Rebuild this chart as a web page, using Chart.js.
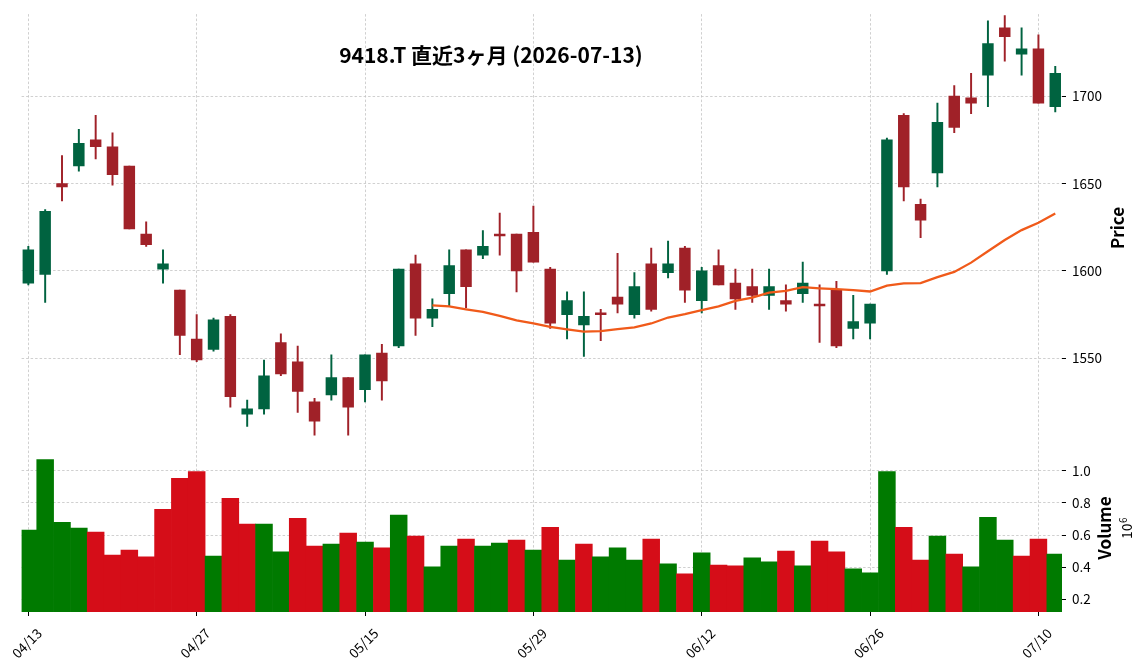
<!DOCTYPE html>
<html>
<head>
<meta charset="utf-8">
<script src="https://cdn.jsdelivr.net/npm/chart.js@4.4.1/dist/chart.umd.min.js"></script>
<style>
  html, body { margin: 0; padding: 0; background: #fff; }
</style>
</head>
<body>
<canvas id="stockChart" width="1148" height="670"></canvas>
<script>
// --- Data (9418.T, last 3 months) ---
const dates = [
  "04/13","04/14","04/15","04/16","04/17","04/20","04/21","04/22","04/23","04/24",
  "04/27","04/28","04/30","05/01","05/07","05/08","05/11","05/12","05/13","05/14",
  "05/15","05/18","05/19","05/20","05/21","05/22","05/25","05/26","05/27","05/28",
  "05/29","06/01","06/02","06/03","06/04","06/05","06/08","06/09","06/10","06/11",
  "06/12","06/15","06/16","06/17","06/18","06/19","06/22","06/23","06/24","06/25",
  "06/26","06/29","06/30","07/01","07/02","07/03","07/06","07/07","07/08","07/09",
  "07/10","07/13"
];
const opens = [
  1593,1598,1650,1660,1675,1671,1660,1621,1601,1589,
  1561,1555,1574,1518,1521,1559,1548,1525,1529,1539,
  1532,1553,1557,1604,1573,1587,1612,1609,1621,1621,
  1622,1601,1575,1569,1576,1585,1575,1604,1599,1613,
  1583,1603,1593,1591,1586,1583,1587,1581,1589,1567,
  1570,1600,1689,1638,1656,1700,1699,1712,1739,1724,
  1727,1694
];
const highs = [
  1614,1635,1666,1681,1689,1679,1660,1628,1612,1589,
  1575,1573,1575,1526,1549,1564,1557,1527,1552,1539,
  1552,1558,1601,1609,1584,1612,1612,1623,1633,1621,
  1637,1602,1588,1588,1578,1610,1599,1613,1617,1614,
  1602,1612,1601,1601,1601,1592,1605,1592,1594,1586,
  1581,1676,1690,1641,1696,1706,1713,1743,1746,1739,
  1735,1717
];
const lows = [
  1592,1582,1640,1657,1664,1649,1624,1614,1593,1552,
  1548,1554,1522,1511,1518,1540,1519,1506,1526,1506,
  1525,1526,1556,1563,1568,1580,1579,1607,1609,1588,
  1605,1567,1561,1551,1560,1576,1573,1577,1596,1582,
  1576,1592,1578,1582,1578,1577,1582,1559,1556,1561,
  1561,1598,1640,1619,1648,1679,1690,1694,1720,1712,
  1696,1691
];
const closes = [
  1612,1634,1648,1673,1671,1655,1624,1615,1604,1563,
  1549,1572,1528,1521,1540,1541,1531,1514,1539,1522,
  1552,1537,1601,1573,1578,1603,1591,1614,1620,1600,
  1605,1570,1583,1574,1575,1581,1591,1578,1604,1589,
  1600,1592,1584,1586,1591,1581,1593,1580,1557,1571,
  1581,1675,1648,1629,1685,1682,1696,1730,1734,1727,
  1696,1713
];
const volumes = [
  631000,1070000,680000,643000,619000,476000,507000,464000,761000,953000,
  996000,470000,829000,668000,668000,495000,705000,532000,544000,612000,
  557000,520000,724000,594000,402000,532000,575000,532000,551000,569000,
  507000,649000,445000,544000,464000,520000,445000,575000,421000,359000,
  489000,414000,408000,458000,433000,501000,408000,563000,495000,390000,
  365000,996000,649000,445000,594000,482000,402000,711000,569000,470000,
  575000,482000
];
// 25-day moving average
const ma25 = [
  null,null,null,null,null,null,null,null,null,null,
  null,null,null,null,null,null,null,null,null,null,
  null,null,null,null,1580.3,1579.7,1578.0,1576.5,1574.2,1571.7,
  1569.9,1568.0,1566.5,1565.2,1565.5,1566.7,1567.6,1569.9,1573.3,1575.2,
  1577.5,1579.7,1582.8,1584.7,1587.5,1588.6,1590.7,1590.0,1589.5,1589.0,
  1588.2,1591.5,1592.8,1593.0,1596.4,1599.4,1604.7,1611.2,1617.6,1623.3,
  1627.5,1632.8
];
const xTickIdx = [0, 10, 20, 30, 40, 50, 60];
const priceTicks = [1550, 1600, 1650, 1700];
const volumeTicks = [200000, 400000, 600000, 800000, 1000000];

// --- Styles ---
const UP = '#006340', DOWN = '#a02128';
const VOL_UP = '#007a00', VOL_DOWN = '#d50d18';
const MA_COLOR = '#f05a1a';
const GRID = '#c4c4c4';
const FONT = '"Noto Sans CJK JP", "Noto Sans", sans-serif';

const candleColors = opens.map((o, i) => closes[i] >= o ? UP : DOWN);
const volColors = closes.map((c, i) => (i === 0 || c >= closes[i - 1]) ? VOL_UP : VOL_DOWN);

const gridOpts = {
  color: GRID,
  lineWidth: 0.8,
  offset: false,
  drawTicks: true,
  tickLength: 4,
  tickColor: '#000',
  tickWidth: 1,
  tickBorderDash: []
};
const borderOpts = { display: false, dash: [2.5, 2] };
const tickFont = { family: FONT, size: 13.5 };

// Title and axis labels drawn on top
const textPlugin = {
  id: 'textLabels',
  afterDraw(chart) {
    const ctx = chart.ctx;
    ctx.save();
    ctx.fillStyle = '#000';
    ctx.font = 'bold 21px ' + FONT;
    ctx.textAlign = 'center';
    ctx.textBaseline = 'middle';
    ctx.fillText('9418.T 直近3ヶ月 (2026-07-13)', 491, 55);

    const vert = (txt, x, y, font) => {
      ctx.save();
      ctx.translate(x, y);
      ctx.rotate(-Math.PI / 2);
      ctx.font = font;
      ctx.textAlign = 'center';
      ctx.textBaseline = 'middle';
      ctx.fillText(txt, 0, 0);
      ctx.restore();
    };
    vert('Price', 1117.5, 228, 'bold 17px ' + FONT);
    vert('Volume', 1104.5, 528, 'bold 17px ' + FONT);

    // offset text 10^6
    ctx.save();
    ctx.translate(1132, 539);
    ctx.rotate(-Math.PI / 2);
    ctx.textAlign = 'left';
    ctx.textBaseline = 'alphabetic';
    ctx.font = '14px ' + FONT;
    ctx.fillText('10', 0, 0);
    const w = ctx.measureText('10').width;
    ctx.font = '10px ' + FONT;
    ctx.fillText('6', w + 0.5, -5.5);
    ctx.restore();
    ctx.restore();
  }
};

new Chart(document.getElementById('stockChart').getContext('2d'), {
  type: 'bar',
  data: {
    datasets: [
      {
        type: 'line',
        label: 'MA25',
        data: ma25.map((v, i) => ({ x: i, y: v })),
        borderColor: MA_COLOR,
        borderWidth: 2.3,
        pointRadius: 0,
        tension: 0,
        spanGaps: false,
        yAxisID: 'y',
        order: 0
      },
      {
        label: 'Body',
        data: opens.map((o, i) => ({ x: i, y: [o, closes[i]] })),
        backgroundColor: candleColors,
        barThickness: 10.8,
        minBarLength: 1.5,
        grouped: false,
        yAxisID: 'y',
        order: 1
      },
      {
        label: 'Wick',
        data: lows.map((l, i) => ({ x: i, y: [l, highs[i]] })),
        backgroundColor: candleColors,
        barThickness: 1.3,
        grouped: false,
        yAxisID: 'y',
        order: 2
      },
      {
        label: 'Volume',
        data: volumes.map((v, i) => ({ x: i, y: v })),
        backgroundColor: volColors,
        barPercentage: 1,
        categoryPercentage: 1,
        grouped: false,
        yAxisID: 'yv',
        order: 3
      }
    ]
  },
  options: {
    responsive: false,
    animation: false,
    devicePixelRatio: 1,
    layout: { padding: { left: 21.6, top: 12, right: 0, bottom: 0 } },
    plugins: {
      legend: { display: false },
      tooltip: { enabled: false }
    },
    scales: {
      x: {
        type: 'linear',
        min: -0.4,
        max: 61.4,
        offset: false,
        grid: gridOpts,
        border: borderOpts,
        afterBuildTicks: (scale) => { scale.ticks = xTickIdx.map(v => ({ value: v })); },
        afterFit: (scale) => {
          scale.height = 58;
          scale.paddingLeft = 0;
          scale.paddingRight = 0;
        },
        ticks: {
          font: tickFont,
          color: '#000',
          minRotation: 45,
          maxRotation: 45,
          autoSkip: false,
          padding: 9,
          labelOffset: 11,
          callback: (v) => dates[v] ?? ''
        }
      },
      y: {
        type: 'linear',
        position: 'right',
        stack: 'panels',
        stackWeight: 2.52,
        min: 1502,
        max: 1746.9,
        grid: gridOpts,
        border: borderOpts,
        afterBuildTicks: (scale) => { scale.ticks = priceTicks.map(v => ({ value: v })); },
        afterFit: (scale) => { scale.width = 86; },
        ticks: { font: tickFont, color: '#000', padding: 6, callback: (v) => String(v) }
      },
      yv: {
        type: 'linear',
        position: 'right',
        stack: 'panels',
        stackWeight: 1,
        min: 121200,
        max: 1178600,
        grid: gridOpts,
        border: borderOpts,
        afterBuildTicks: (scale) => { scale.ticks = volumeTicks.map(v => ({ value: v })); },
        afterFit: (scale) => { scale.width = 86; },
        ticks: {
          font: tickFont,
          color: '#000',
          padding: 6,
          callback: (v) => (v / 1e6).toFixed(1)
        }
      }
    }
  },
  plugins: [textPlugin]
});
</script>
</body>
</html>
